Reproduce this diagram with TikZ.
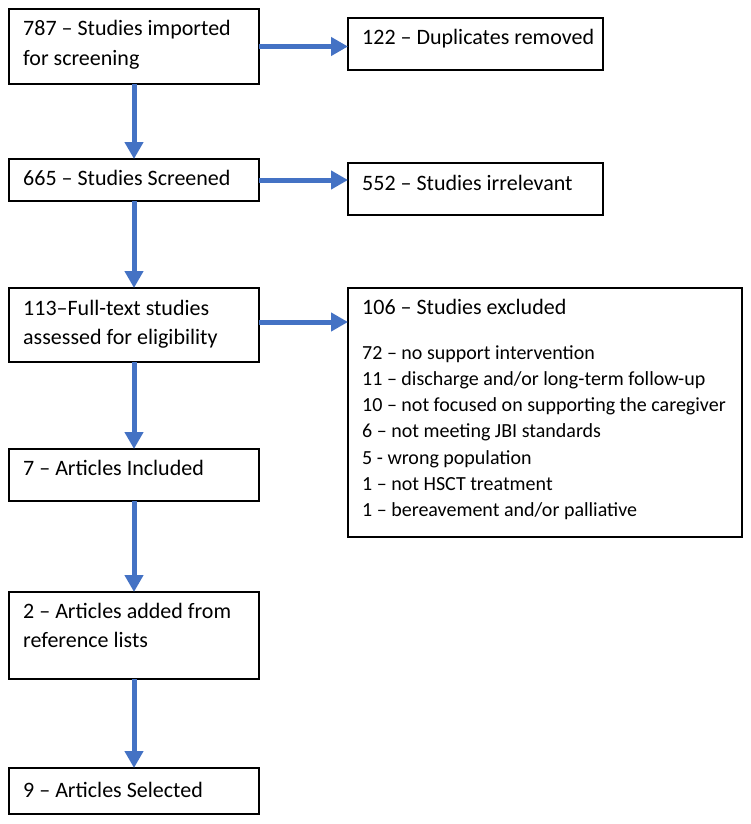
\documentclass[tikz,border=0pt]{standalone}
\usepackage{fontspec}
\setmainfont{Carlito}
\usetikzlibrary{arrows.meta}
\definecolor{arrblue}{HTML}{4472C4}
\tikzset{
  box/.style={draw=black, line width=1.5pt, rectangle, anchor=north west, inner sep=0pt, outer sep=0pt},
  lbl/.style={anchor=base west, inner sep=0pt, font=\fontsize{22}{29.5}\selectfont},
  lst/.style={anchor=base west, inner sep=0pt, font=\fontsize{20}{26.3}\selectfont},
  flow/.style={draw=arrblue, line width=5pt, -{Triangle[length=17pt,width=18pt]}},
}
\newcommand{\twoln}[2]{\vtop{\hbox{#1}\hbox{#2}}}
\begin{document}
\begin{tikzpicture}[x=1pt,y=-1pt]
\useasboundingbox (0,0) rectangle (751,824);
% left column boxes
\node[box, minimum width=250pt, minimum height=75pt] (b1) at (9,9) {};
\node[box, minimum width=250pt, minimum height=42pt] (b2) at (9,159) {};
\node[box, minimum width=250pt, minimum height=74pt] (b3) at (9,288) {};
\node[box, minimum width=250pt, minimum height=52pt] (b4) at (9,449) {};
\node[box, minimum width=250pt, minimum height=87pt] (b5) at (9,592) {};
\node[box, minimum width=250pt, minimum height=46pt] (b6) at (9,768) {};
% right column boxes
\node[box, minimum width=255pt, minimum height=52pt] (r1) at (348,18) {};
\node[box, minimum width=255pt, minimum height=52pt] (r2) at (348,163) {};
\node[box, minimum width=394pt, minimum height=249pt] (r3) at (348,288) {};
% texts
\node[lbl] (t1) at ([xshift=14pt,yshift=-27pt]b1.north west) {\twoln{787 – Studies imported}{for screening}};
\node[lbl] (t2) at ([xshift=14pt,yshift=-26pt]b2.north west) {665 – Studies Screened};
\node[lbl] (t3) at ([xshift=14pt,yshift=-27pt]b3.north west) {\twoln{113–Full-text studies}{assessed for eligibility}};
\node[lbl] (t4) at ([xshift=14pt,yshift=-26pt]b4.north west) {7 – Articles Included};
\node[lbl] (t5) at ([xshift=14pt,yshift=-26pt]b5.north west) {\twoln{2 – Articles added from}{reference lists}};
\node[lbl] (t6) at ([xshift=14pt,yshift=-29pt]b6.north west) {9 – Articles Selected};
\node[lbl] (u1) at ([xshift=14pt,yshift=-27pt]r1.north west) {122 – Duplicates removed};
\node[lbl] (u2) at ([xshift=14pt,yshift=-27pt]r2.north west) {552 – Studies irrelevant};
\node[lbl] (u3) at ([xshift=14pt,yshift=-26pt]r3.north west) {106 – Studies excluded};
\node[lst] (u4) at ([xshift=14pt,yshift=-71pt]r3.north west) {\vtop{%
  \hbox{72 – no support intervention}
  \hbox{11 – discharge and/or long-term follow-up}
  \hbox{10 – not focused on supporting the caregiver}
  \hbox{6 – not meeting JBI standards}
  \hbox{5 - wrong population}
  \hbox{1 – not HSCT treatment}
  \hbox{1 – bereavement and/or palliative}}};
% connectors
\draw[flow] (b1.south) -- (b2.north);
\draw[flow] (b2.south) -- (b3.north);
\draw[flow] (b3.south) -- (b4.north);
\draw[flow] (b4.south) -- (b5.north);
\draw[flow] (b5.south) -- (b6.north);
\draw[flow] (b1.east) -- (b1.east -| r1.west);
\draw[flow] (b2.east) -- (b2.east -| r2.west);
\draw[flow] ([yshift=3pt]b3.east) -- ([yshift=3pt]b3.east -| r3.west);
\end{tikzpicture}
\end{document}
